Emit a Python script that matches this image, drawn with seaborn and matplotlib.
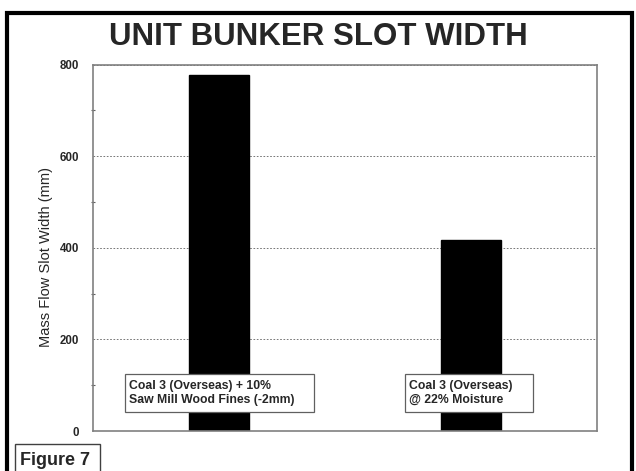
import matplotlib
matplotlib.use("Agg")
import matplotlib.pyplot as plt
from matplotlib.patches import Rectangle
from matplotlib.ticker import MultipleLocator
import pandas as pd
import seaborn as sns

# data
materials = ["Coal 3 (Overseas) + 10%\nSaw Mill Wood Fines (-2mm)",
             "Coal 3 (Overseas)\n@ 22% Moisture"]
slot_width_mm = [776, 418]

sns.set_style("white")
plt.rcParams["font.family"] = ["Liberation Sans", "DejaVu Sans"]

df = pd.DataFrame({"material": materials, "width": slot_width_mm})

W, H = 636, 471
fig = plt.figure(figsize=(W / 100, H / 100), dpi=100)
fig.patch.set_facecolor("white")
ax = fig.add_axes([93 / W, 1 - 431 / H, (597 - 93) / W, (431 - 64.5) / H])

sns.barplot(data=df, x="material", y="width", color="black",
            width=0.24, saturation=1, ax=ax)
for p in ax.patches:
    p.set_edgecolor("black")

ax.set_xlim(-0.5, len(materials) - 0.5)
ax.set_ylim(0, 800)
ax.set_xlabel("")
ax.set_ylabel("Mass Flow Slot Width (mm)", fontsize=10.5)
ax.yaxis.set_label_coords(-0.08, 0.475)

ax.set_xticks([-0.5, 0.5, 1.5])
ax.set_xticklabels([])
ax.tick_params(axis="x", direction="inout", length=8, width=0.8, color="#606060")

ax.yaxis.set_major_locator(MultipleLocator(200))
ax.yaxis.set_minor_locator(MultipleLocator(100))
ax.tick_params(axis="y", which="major", direction="out", length=5, width=0.8,
               color="#606060", labelsize=8.3, pad=5)
ax.tick_params(axis="y", which="minor", direction="inout", length=3, width=0.8,
               color="#606060", left=True)
for lbl in ax.get_yticklabels():
    lbl.set_fontweight("bold")

ax.yaxis.grid(True, which="major", linestyle=(0, (2, 2)), color="#606060",
              linewidth=0.6)
ax.set_axisbelow(True)
for s in ax.spines.values():
    s.set_visible(True)
    s.set_color("#808080")
    s.set_linewidth(1.2)

# label boxes near each bar's base (left/right edges in category units)
box_edges = [(-0.373, 0.377), (-0.262, 0.246)]
trans = ax.get_xaxis_transform()
for i, (m, (x0, x1)) in enumerate(zip(materials, box_edges)):
    ax.add_patch(Rectangle((i + x0, 0.052), x1 - x0, 0.1035, transform=trans,
                           facecolor="white", edgecolor="#606060",
                           linewidth=0.9, zorder=4))
    ax.text(i + x0 + 0.016, 0.104, m, transform=trans, fontsize=8.8,
            fontweight="bold", ha="left", va="center", linespacing=1.3,
            zorder=5)

fig.text(0.5, 1 - 45 / H, "UNIT BUNKER SLOT WIDTH", ha="center", va="baseline",
         fontsize=22.5, fontweight="bold")

# outer frame and figure tag
fig.patches.append(Rectangle((7 / W, -0.05), (632 - 7) / W, 1.05 - 13 / H,
                             transform=fig.transFigure, fill=False,
                             edgecolor="black", linewidth=3))
fig.patches.append(Rectangle((15 / W, -0.05), (100 - 15) / W, 0.05 + (471 - 444) / H,
                             transform=fig.transFigure, fill=False,
                             edgecolor="#404040", linewidth=1))
fig.text(20 / W, 1 - 465 / H, "Figure 7", ha="left", va="baseline",
         fontsize=13, fontweight="bold")

fig.savefig("out.png", dpi=100, facecolor="white")
